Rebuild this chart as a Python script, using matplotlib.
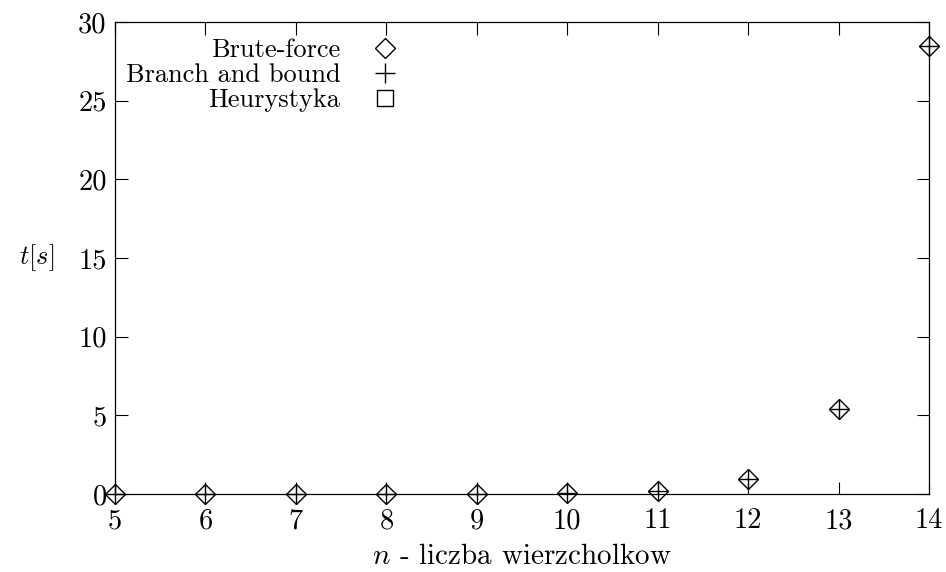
import matplotlib

matplotlib.use("Agg")
import matplotlib.pyplot as plt

# pomiary czasu [s] dla kolejnych n
N_VALUES = [5, 6, 7, 8, 9, 10, 11, 12, 13, 14]
BRUTE_FORCE = [0.0, 0.0, 0.0, 0.01, 0.01, 0.04, 0.18, 0.95, 5.42, 28.45]
BRANCH_AND_BOUND = [0.0, 0.0, 0.0, 0.01, 0.01, 0.04, 0.18, 0.95, 5.42, 28.45]
HEURYSTYKA_N = []
HEURYSTYKA = []

X_TICKS = list(range(5, 15))
Y_TICKS = [0, 5, 10, 15, 20, 25, 30]

plt.rcParams["font.family"] = "cmr10"
plt.rcParams["mathtext.fontset"] = "cm"
plt.rcParams["axes.unicode_minus"] = False

fig = plt.figure(figsize=(9.46, 5.72), dpi=100)
ax = fig.add_axes([0.1216, 0.1364, 0.8605, 0.8252])

ax.plot(N_VALUES, BRUTE_FORCE, linestyle="none", marker="D", markersize=10,
        markerfacecolor="none", markeredgecolor="black", markeredgewidth=1.0,
        label="Brute-force", clip_on=False, zorder=3)
ax.plot(N_VALUES, BRANCH_AND_BOUND, linestyle="none", marker="+", markersize=15,
        markeredgecolor="black", markeredgewidth=1.0,
        label="Branch and bound", clip_on=False, zorder=3)
ax.plot(HEURYSTYKA_N, HEURYSTYKA, linestyle="none", marker="s", markersize=12,
        markerfacecolor="none", markeredgecolor="black", markeredgewidth=1.0,
        label="Heurystyka", clip_on=False, zorder=3)

ax.set_xlim(5, 14)
ax.set_ylim(0, 30)
ax.set_xticks(X_TICKS)
ax.set_yticks(Y_TICKS)
ax.tick_params(direction="in", length=9, width=0.8, top=True, right=True,
               labelsize=20.5)
ax.tick_params(axis="x", pad=10)
ax.tick_params(axis="y", pad=6)
for spine in ax.spines.values():
    spine.set_linewidth(0.9)

ax.set_xlabel("$n$ - liczba wierzcholkow", fontsize=21, labelpad=7)
ax.set_ylabel("$t[s]$", fontsize=19, rotation=0, va="center", ha="center")
ax.yaxis.set_label_coords(-0.096, 0.5)

ax.legend(loc="upper right", bbox_to_anchor=(0.358, 0.965), frameon=False,
          markerfirst=False, fontsize=19, handletextpad=0.9, labelspacing=0.05,
          borderpad=0, borderaxespad=0, handlelength=1.6)

fig.savefig("out.png", dpi=100)
